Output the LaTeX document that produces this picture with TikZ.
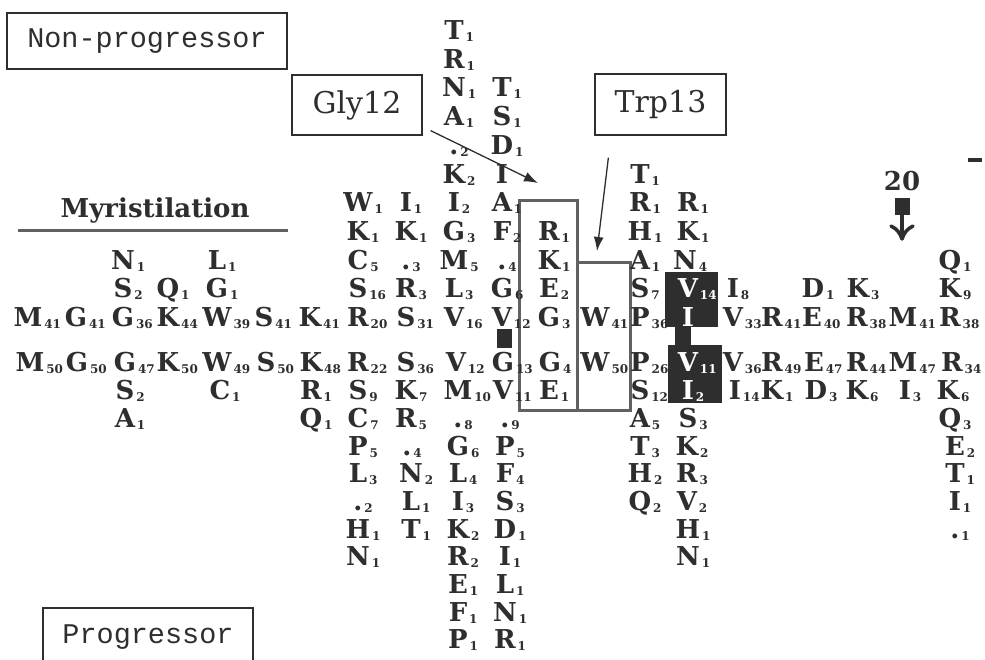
\documentclass[tikz,border=0pt]{standalone}
\usepackage{fontspec}
\usetikzlibrary{calc,arrows.meta}
\newfontfamily\gridfont{DejaVu Serif}
\newfontfamily\labmono{Liberation Mono}
\definecolor{ink}{gray}{0.18}
\definecolor{boxgray}{gray}{0.38}
\tikzset{
  res/.style={inner sep=0pt, anchor=base, text=ink, font=\gridfont\bfseries\fontsize{26}{26}\selectfont},
  subn/.style={inner sep=0pt, anchor=base west, text=ink, font=\gridfont\bfseries\fontsize{12}{12}\selectfont},
  resw/.style={res, text=white},
  subw/.style={subn, text=white},
  tagbox/.style={draw=ink, line width=1.2pt, inner sep=0pt, font=\gridfont\fontsize{30}{30}\selectfont, text=ink},
  monolab/.style={inner sep=0pt, text=ink, font=\labmono\fontsize{28.5}{28.5}\selectfont},
  boxline/.style={draw=boxgray, line width=3pt},
  arr/.style={draw=ink, line width=1.3pt, -{Latex[length=14pt,width=10pt]}},
}
\newcount\rescnt
\newcommand\rs[4]{%
  \global\advance\rescnt by 1
  \edef\rn{r\the\rescnt}\edef\sn{s\the\rescnt}%
  \node[res] (\rn) at (#1,#2+9.5) {#3};
  \node[subn] (\sn) at ($(\rn.base east)+(1.5,2)$) {#4};
}
\newcommand\rsw[4]{%
  \global\advance\rescnt by 1
  \edef\rn{r\the\rescnt}\edef\sn{s\the\rescnt}%
  \node[resw] (\rn) at (#1,#2+9.5) {#3};
  \node[subw] (\sn) at ($(\rn.base east)+(1.5,2)$) {#4};
}
\begin{document}
\begin{tikzpicture}[x=1pt,y=-1pt]
\useasboundingbox (0,0) rectangle (985,659);
\fill[white] (0,0) rectangle (985,659);

% labels
\node[tagbox, monolab, draw=ink, line width=1.2pt, minimum width=280pt, minimum height=56pt] (nonprog) at (147,41) {Non-progressor};
\node[tagbox, minimum width=130pt, minimum height=60pt] (gly) at (357,105) {Gly12};
\node[tagbox, minimum width=131pt, minimum height=61pt] (trp) at (660.5,104.5) {Trp13};
\node[monolab, anchor=base] (prog) at (148,643) {Progressor};
\draw[draw=ink, line width=1.2pt] (43,665) -- (43,608) -- (253,608) -- (253,665);

\node[inner sep=0pt, anchor=base, text=ink, font=\gridfont\bfseries\fontsize{26}{26}\selectfont] (myr) at (155,217) {Myristilation};
\draw[boxgray, line width=3pt] (18,230) -- (288,230);

% position 20 marker
\node[inner sep=0pt, anchor=base, text=ink, font=\gridfont\bfseries\fontsize{26}{26}\selectfont] (p20) at (902,190) {20};
\fill[ink] (895,198) rectangle (910,215);
\draw[ink, line width=3.5pt, line cap=round, line join=round] (902,214) -- (902,238);
\draw[ink, line width=3.5pt, line cap=round, line join=round] (891,226) .. controls (897,229) and (900,233) .. (902,239) .. controls (904,233) and (907,229) .. (913,226);
\fill[ink] (968,158) rectangle (982,162);

% dark boxes
\fill[ink] (665,272) rectangle (718,327);
\fill[ink] (675,326) rectangle (691,346);
\fill[ink] (668,345) rectangle (722,403);
\fill[ink] (497,329) rectangle (512,348);

% outline boxes
\draw[boxline] (519,200) rectangle (577,410);
\draw[boxline] (577,262) rectangle (630,410);

% ---------- Non-progressor rows ----------
\rs{28}{317}{M}{41}
\rs{76}{317}{G}{41}
\rs{123}{259.6}{N}{1}
\rs{123}{288.3}{S}{2}
\rs{123}{317}{G}{36}
\rs{168}{288.3}{Q}{1}
\rs{168}{317}{K}{44}
\rs{217}{259.6}{L}{1}
\rs{217}{288.3}{G}{1}
\rs{217}{317}{W}{39}
\rs{264}{317}{S}{41}
\rs{310}{317}{K}{41}
\rs{358}{202.2}{W}{1}
\rs{358}{230.9}{K}{1}
\rs{358}{259.6}{C}{5}
\rs{358}{288.3}{S}{16}
\rs{358}{317}{R}{20}
\rs{406}{202.2}{I}{1}
\rs{406}{230.9}{K}{1}
\rs{406}{259.6}{.}{3}
\rs{406}{288.3}{R}{3}
\rs{406}{317}{S}{31}
\rs{454}{30}{T}{1}
\rs{454}{58.7}{R}{1}
\rs{454}{87.4}{N}{1}
\rs{454}{116.1}{A}{1}
\rs{454}{144.8}{.}{2}
\rs{454}{173.5}{K}{2}
\rs{454}{202.2}{I}{2}
\rs{454}{230.9}{G}{3}
\rs{454}{259.6}{M}{5}
\rs{454}{288.3}{L}{3}
\rs{454}{317}{V}{16}
\rs{502}{87.4}{T}{1}
\rs{502}{116.1}{S}{1}
\rs{502}{144.8}{D}{1}
\rs{502}{173.5}{I}{}
\rs{502}{202.2}{A}{1}
\rs{502}{230.9}{F}{2}
\rs{502}{259.6}{.}{4}
\rs{502}{288.3}{G}{6}
\rs{502}{317}{V}{12}
\rs{549}{230.9}{R}{1}
\rs{549}{259.6}{K}{1}
\rs{549}{288.3}{E}{2}
\rs{549}{317}{G}{3}
\rs{595}{317}{W}{41}
\rs{640}{173.5}{T}{1}
\rs{640}{202.2}{R}{1}
\rs{640}{230.9}{H}{1}
\rs{640}{259.6}{A}{1}
\rs{640}{288.3}{S}{7}
\rs{640}{317}{P}{36}
\rs{688}{202.2}{R}{1}
\rs{688}{230.9}{K}{1}
\rs{685}{259.6}{N}{4}
\rsw{688}{288.3}{V}{14}
\rsw{688}{317}{I}{}
\rs{733}{288.3}{I}{8}
\rs{733}{317}{V}{33}
\rs{772}{317}{R}{41}
\rs{813}{288.3}{D}{1}
\rs{812}{317}{E}{40}
\rs{858}{288.3}{K}{3}
\rs{857}{317}{R}{38}
\rs{903}{317}{M}{41}
\rs{950}{259.6}{Q}{1}
\rs{950}{288.3}{K}{9}
\rs{950}{317}{R}{38}

% ---------- Progressor rows ----------
\rs{30}{362}{M}{50}
\rs{77}{362}{G}{50}
\rs{125}{362}{G}{47}
\rs{125}{390}{S}{2}
\rs{125}{418}{A}{1}
\rs{168}{362}{K}{50}
\rs{217}{362}{W}{49}
\rs{220}{390}{C}{1}
\rs{266}{362}{S}{50}
\rs{311}{362}{K}{48}
\rs{311}{390}{R}{1}
\rs{311}{418}{Q}{1}
\rs{358}{362}{R}{22}
\rs{358}{390}{S}{9}
\rs{358}{418}{C}{7}
\rs{358}{445.5}{P}{5}
\rs{358}{473}{L}{3}
\rs{358}{501}{.}{2}
\rs{358}{528.5}{H}{1}
\rs{358}{556}{N}{1}
\rs{406}{362}{S}{36}
\rs{406}{390}{K}{7}
\rs{406}{418}{R}{5}
\rs{407}{445.5}{.}{4}
\rs{411}{473}{N}{2}
\rs{411}{501}{L}{1}
\rs{411}{528.5}{T}{1}
\rs{456}{362}{V}{12}
\rs{458}{390}{M}{10}
\rs{458}{418}{.}{8}
\rs{458}{445.5}{G}{6}
\rs{458}{473}{L}{4}
\rs{458}{501}{I}{3}
\rs{458}{528.5}{K}{2}
\rs{458}{556}{R}{2}
\rs{458}{584}{E}{1}
\rs{458}{611.5}{F}{1}
\rs{458}{639}{P}{1}
\rs{503}{362}{G}{13}
\rs{503}{390}{V}{11}
\rs{505}{418}{.}{9}
\rs{505}{445.5}{P}{5}
\rs{505}{473}{F}{4}
\rs{505}{501}{S}{3}
\rs{505}{528.5}{D}{1}
\rs{505}{556}{I}{1}
\rs{505}{584}{L}{1}
\rs{505}{611.5}{N}{1}
\rs{505}{639}{R}{1}
\rs{550}{362}{G}{4}
\rs{549}{390}{E}{1}
\rs{595}{362}{W}{50}
\rs{640}{362}{P}{26}
\rs{640}{390}{S}{12}
\rs{640}{418}{A}{5}
\rs{640}{445.5}{T}{3}
\rs{640}{473}{H}{2}
\rs{640}{501}{Q}{2}
\rsw{688}{362}{V}{11}
\rsw{688}{390}{I}{2}
\rs{688}{418}{S}{3}
\rs{687}{445.5}{K}{2}
\rs{687}{473}{R}{3}
\rs{687}{501}{V}{2}
\rs{688}{528.5}{H}{1}
\rs{688}{556}{N}{1}
\rs{733}{362}{V}{36}
\rs{735}{390}{I}{14}
\rs{772}{362}{R}{49}
\rs{772}{390}{K}{1}
\rs{814}{362}{E}{47}
\rs{816}{390}{D}{3}
\rs{857}{362}{R}{44}
\rs{857}{390}{K}{6}
\rs{903}{362}{M}{47}
\rs{905}{390}{I}{3}
\rs{952}{362}{R}{34}
\rs{948}{390}{K}{6}
\rs{950}{418}{Q}{3}
\rs{955}{445.5}{E}{2}
\rs{955}{473}{T}{1}
\rs{955}{501}{I}{1}
\rs{955}{528.5}{.}{1}

% arrows
\coordinate (glytip) at (538,183);
\coordinate (trptip) at (597,251);
\draw[arr] ([xshift=8pt,yshift=5pt]gly.south east) -- (glytip);
\draw[arr] ([xshift=14pt,yshift=-22pt]trp.south west) -- (trptip);
\end{tikzpicture}
\end{document}
